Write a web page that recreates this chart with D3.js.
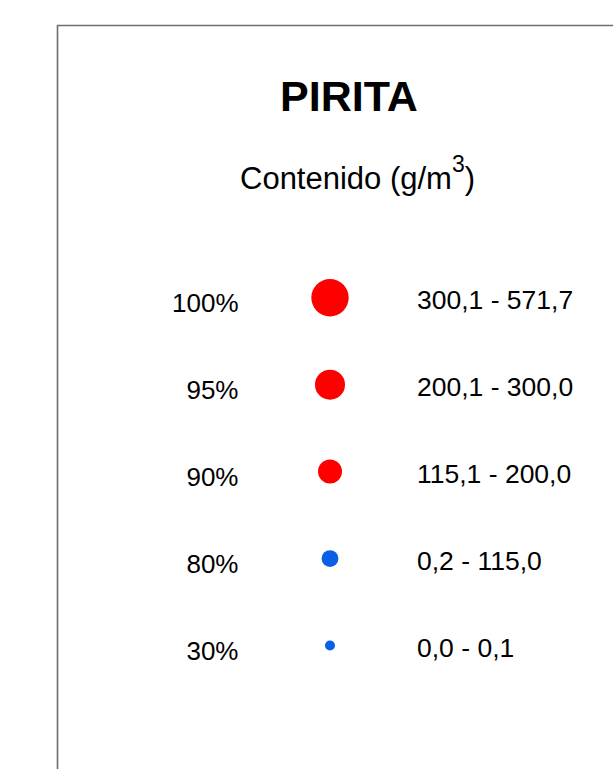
<!DOCTYPE html>
<html><head><meta charset="utf-8">
<script src="https://cdn.jsdelivr.net/npm/d3@7"></script>
<style>html,body{margin:0;padding:0;background:#fff;}svg{display:block;}</style>
</head><body>
<script>
const title = "PIRITA";
const subtitle = "Contenido (g/m";
const classes = ["100%", "95%", "90%", "80%", "30%"];
const ranges = ["300,1 - 571,7", "200,1 - 300,0", "115,1 - 200,0", "0,2 - 115,0", "0,0 - 0,1"];
const groups = ["alto", "alto", "alto", "bajo", "bajo"];

const W = 613, H = 769;
const svg = d3.select("body").append("svg").attr("width", W).attr("height", H);
const font = "Liberation Sans, Arial, sans-serif";

// frame
svg.append("path")
  .attr("d", `M57.5,${H+5} L57.5,25.5 L${W+5},25.5`)
  .attr("fill", "none").attr("stroke", "#6e6e6e").attr("stroke-width", 1.6);

svg.append("text").attr("x", 349).attr("y", 110.5).attr("text-anchor", "middle")
  .attr("font-family", font).attr("font-weight", "bold").attr("font-size", 43)
  .attr("fill", "#000").text(title);

const sub = svg.append("text").attr("x", 240).attr("y", 189)
  .attr("font-family", font).attr("font-size", 31).attr("fill", "#000");
sub.append("tspan").text(subtitle);
sub.append("tspan").attr("dy", -17).attr("font-size", 23).text("3");
sub.append("tspan").attr("dy", 17).text(")");

const y = d3.scalePoint().domain(classes).range([297.7, 645.5]);
const r = d3.scaleOrdinal().domain(classes).range([18.7, 15, 12, 8.4, 5]);
const color = d3.scaleOrdinal().domain(["alto", "bajo"]).range(["#ff0000", "#0a5fe6"]);

const rows = svg.append("g").selectAll("g").data(classes).join("g");
rows.append("circle").attr("cx", 330).attr("cy", d => y(d)).attr("r", d => r(d))
  .attr("fill", (d, i) => color(groups[i]));
rows.append("text").attr("x", 238.5).attr("y", d => y(d) + 14).attr("text-anchor", "end")
  .attr("font-family", font).attr("font-size", 26).attr("fill", "#000").text(d => d);
rows.append("text").attr("x", 417).attr("y", d => y(d) + 11.5)
  .attr("font-family", font).attr("font-size", 26.5).attr("fill", "#000").text((d, i) => ranges[i]);
</script>
</body></html>
